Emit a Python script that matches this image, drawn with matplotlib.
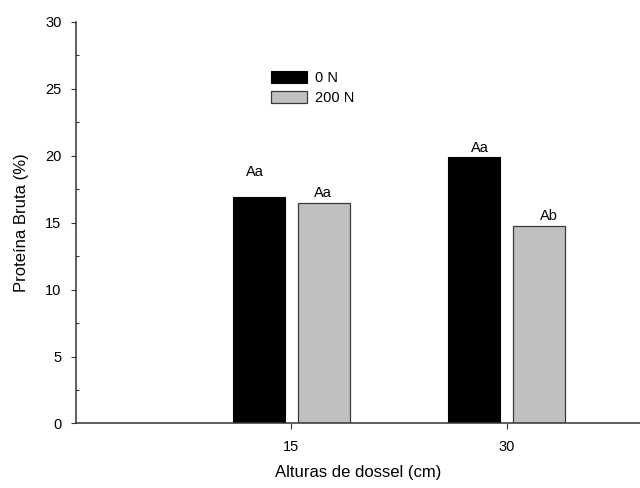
import matplotlib
matplotlib.use('Agg')
import matplotlib.pyplot as plt
import numpy as np

# canopy heights and crude protein values (%)
alturas = [15, 30]
pb_0n = [16.95, 19.9]
pb_200n = [16.5, 14.75]
letras_0n = ['Aa', 'Aa']
letras_200n = ['Aa', 'Ab']

plt.rcParams['font.family'] = ['Liberation Sans', 'DejaVu Sans']

fig = plt.figure(figsize=(6.4, 4.88), dpi=100)
ax = fig.add_axes([0.1188, 0.1322, 0.8812, 0.8228])

x = np.array(alturas, dtype=float)
w = 3.63
off = 2.25

b1 = ax.bar(x - off, pb_0n, w, color='black', edgecolor='black', linewidth=0.8, label='0 N')
b2 = ax.bar(x + off, pb_200n, w, color='#c0c0c0', edgecolor='#3a3a3a', linewidth=0.9, label='200 N')

# letter labels (manual nudges to match the original figure)
pad_0n = [(-0.27, 1.85), (0.42, 0.7)]
pad_200n = [(-0.05, 0.7), (0.69, 0.75)]
for xi, v, t, (dx, dy) in zip(x - off, pb_0n, letras_0n, pad_0n):
    ax.text(xi + dx, v + dy, t, ha='center', va='center', fontsize=10.5)
for xi, v, t, (dx, dy) in zip(x + off, pb_200n, letras_200n, pad_200n):
    ax.text(xi + dx, v + dy, t, ha='center', va='center', fontsize=10.5)

ax.set_xlim(0, 39.3)
ax.set_ylim(0, 30)
ax.set_xticks(x)
ax.set_xticklabels([str(a) for a in alturas])
ax.set_yticks(np.arange(0, 31, 5))
ax.set_yticks(np.arange(2.5, 30, 5), minor=True)

ax.spines['top'].set_visible(False)
ax.spines['right'].set_visible(False)
for s in ['left', 'bottom']:
    ax.spines[s].set_color('#333333')
    ax.spines[s].set_linewidth(1.1)

ax.tick_params(axis='y', which='major', direction='out', length=3.5, width=0.8, pad=7, labelsize=10.5, color='#333333')
ax.tick_params(axis='y', which='minor', direction='in', length=2.5, width=0.8, color='#333333')
ax.tick_params(axis='x', which='major', direction='out', length=4, width=0.8, pad=8, labelsize=10.5, color='#333333')

ax.set_ylabel('Proteína Bruta (%)', fontsize=12)
ax.set_xlabel('Alturas de dossel (cm)', fontsize=12)
ax.yaxis.set_label_coords(-0.083, 0.5)
ax.xaxis.set_label_coords(0.5, -0.104)

leg = ax.legend(handles=[b1, b2], loc='upper left', bbox_to_anchor=(271 / 640, 1 - 71 / 488),
                bbox_transform=fig.transFigure, frameon=False, fontsize=10.5,
                handlelength=2.5, handleheight=0.8, handletextpad=0.55,
                labelspacing=0.42, borderpad=0, borderaxespad=0)

fig.savefig('out.png', dpi=100)
